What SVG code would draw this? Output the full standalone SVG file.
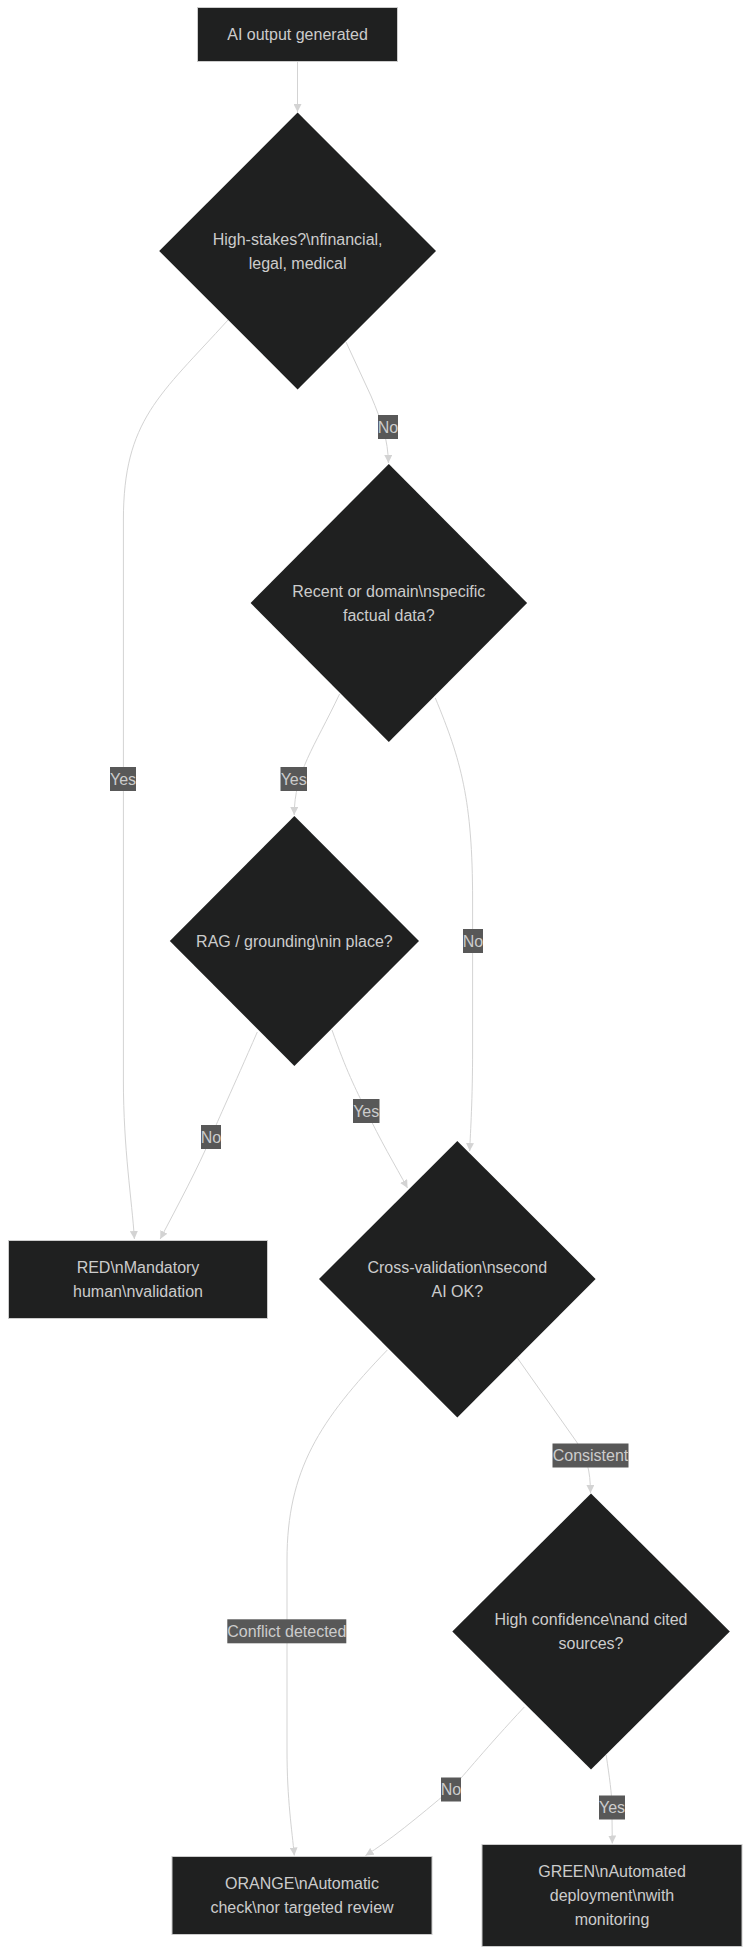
<svg xmlns="http://www.w3.org/2000/svg" width="750" height="1955" viewBox="0 0 750 1955">
<style>
.n{fill:#1f2020;stroke:#cccccc;stroke-width:1}
.d{fill:#1f2020;stroke:none}
.t{font-family:"Liberation Sans",Arial,sans-serif;font-size:16px;fill:#cccccc;text-anchor:middle;dominant-baseline:central}
.e{fill:none;stroke:#d3d3d3;stroke-width:1}
.lb{fill:#585858}
</style>
<defs>
<marker id="ah" viewBox="0 0 10 10" refX="10" refY="5" markerWidth="8" markerHeight="8" markerUnits="userSpaceOnUse" orient="auto">
<path d="M0,0 L10,5 L0,10 z" fill="#d3d3d3"/>
</marker>
</defs>
<rect width="750" height="1955" fill="#ffffff"/>
<g id="edges">
<path class="e" d="M297.5,62 L297.5,112" marker-end="url(#ah)"/>
<path class="e" d="M228,320 C160,395 123.4,420 123.4,520 L123.4,1080 C123.4,1150 132,1200 134.4,1239" marker-end="url(#ah)"/>
<path class="e" d="M346,342 L371,396 C382,422 388,440 388.4,463" marker-end="url(#ah)"/>
<path class="e" d="M339.6,694 C314,748 294.5,772 294.2,815" marker-end="url(#ah)"/>
<path class="e" d="M435.3,698 C461,760 472.6,800 472.6,900 L472.6,1050 C472.6,1100 470.5,1130 469.7,1151" marker-end="url(#ah)"/>
<path class="e" d="M257.3,1032 C232,1090 218,1120 211,1137 C198,1168 178,1205 160.2,1239" marker-end="url(#ah)"/>
<path class="e" d="M332,1030 C346,1070 356,1090 366,1110 C380,1140 395,1165 407.5,1188" marker-end="url(#ah)"/>
<path class="e" d="M387.3,1350 C320,1420 287,1470 287,1560 L287,1750 C287,1800 292,1830 294.3,1855.5" marker-end="url(#ah)"/>
<path class="e" d="M517.4,1358 L576.7,1442 C587,1458 590.3,1470 590.5,1493" marker-end="url(#ah)"/>
<path class="e" d="M524.3,1707 C486,1748 466,1773 450.8,1789.5 C417,1818 389,1841 365.5,1855.5" marker-end="url(#ah)"/>
<path class="e" d="M606.2,1755 C609.5,1778 611.8,1793 611.9,1807 L612.3,1843.5" marker-end="url(#ah)"/>
</g>
<g id="edge-labels">
<rect class="lb" x="378" y="415" width="20" height="24"/><text class="t" x="388" y="427">No</text>
<rect class="lb" x="110" y="767" width="26" height="24"/><text class="t" x="123" y="779">Yes</text>
<rect class="lb" x="280.5" y="767" width="26.5" height="24"/><text class="t" x="293.7" y="779">Yes</text>
<rect class="lb" x="463" y="929" width="20" height="24"/><text class="t" x="473" y="941">No</text>
<rect class="lb" x="353" y="1099" width="26.5" height="24"/><text class="t" x="366.2" y="1111">Yes</text>
<rect class="lb" x="201" y="1125" width="20" height="24"/><text class="t" x="211" y="1137">No</text>
<rect class="lb" x="552.5" y="1443.5" width="76" height="24"/><text class="t" x="590.5" y="1455.5">Consistent</text>
<rect class="lb" x="227.3" y="1619.3" width="119" height="24"/><text class="t" x="286.8" y="1631.3">Conflict detected</text>
<rect class="lb" x="441" y="1777.5" width="20" height="24"/><text class="t" x="451" y="1789.5">No</text>
<rect class="lb" x="599" y="1795.5" width="26" height="24"/><text class="t" x="612" y="1807.5">Yes</text>
</g>
<g id="start">
<rect class="n" x="197.5" y="7.5" width="200" height="54"/>
<text class="t" x="297.5" y="34.5">AI output generated</text>
</g>
<g id="d1">
<polygon class="d" points="297.6,112.5 436,251 297.6,389.5 159.2,251"/>
<text class="t" x="297.6" y="239">High-stakes?\nfinancial,</text>
<text class="t" x="297.6" y="263">legal, medical</text>
</g>
<g id="d2">
<polygon class="d" points="388.8,464 527.1,603 388.8,742 250.6,603"/>
<text class="t" x="388.8" y="591">Recent or domain\nspecific</text>
<text class="t" x="388.8" y="615">factual data?</text>
</g>
<g id="d3">
<polygon class="d" points="294.4,816 419,941 294.4,1066 169.8,941"/>
<text class="t" x="294.4" y="941">RAG / grounding\nin place?</text>
</g>
<g id="red">
<rect class="n" x="8.5" y="1240.5" width="259" height="78"/>
<text class="t" x="138" y="1267.5">RED\nMandatory</text>
<text class="t" x="138" y="1291.5">human\nvalidation</text>
</g>
<g id="cross">
<polygon class="d" points="457.3,1141 595.6,1279 457.3,1417.5 319,1279"/>
<text class="t" x="457.3" y="1267.5">Cross-validation\nsecond</text>
<text class="t" x="457.3" y="1291.5">AI OK?</text>
</g>
<g id="d5">
<polygon class="d" points="591,1493.5 729.8,1631.5 591,1769.5 452.3,1631.5"/>
<text class="t" x="591" y="1619.5">High confidence\nand cited</text>
<text class="t" x="591" y="1643.5">sources?</text>
</g>
<g id="orange">
<rect class="n" x="172" y="1856.5" width="260" height="78"/>
<text class="t" x="302" y="1883.5">ORANGE\nAutomatic</text>
<text class="t" x="302" y="1907.5">check\nor targeted review</text>
</g>
<g id="green">
<rect class="n" x="482" y="1844.5" width="260" height="102"/>
<text class="t" x="612" y="1871.5">GREEN\nAutomated</text>
<text class="t" x="612" y="1895.5">deployment\nwith</text>
<text class="t" x="612" y="1919.5">monitoring</text>
</g>
</svg>
